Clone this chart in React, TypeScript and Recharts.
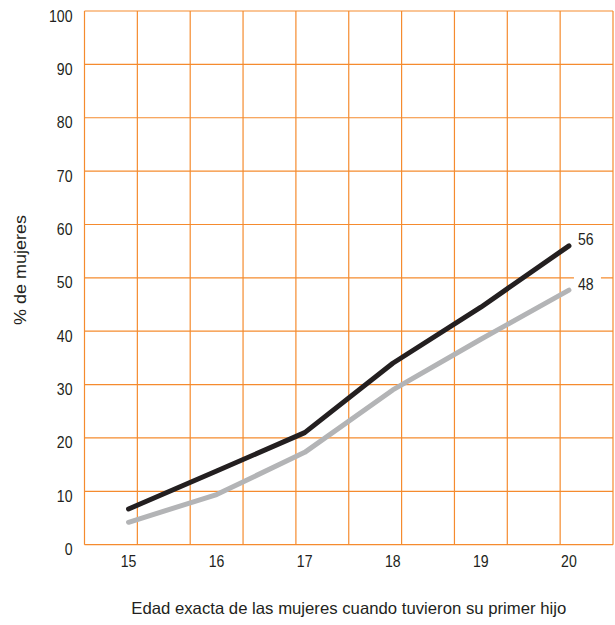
import React from 'react';
import { LineChart, Line, XAxis, YAxis, CartesianGrid, ReferenceLine } from 'recharts';

const ages = [15, 16, 17, 18, 19, 20];
const seriesBlack = [6.7, 13.8, 21, 34, 44.5, 56];
const seriesGray = [4.2, 9.4, 17.3, 29, 38.5, 47.7];
const yTicks = [0, 10, 20, 30, 40, 50, 60, 70, 80, 90, 100];
const xDomain: [number, number] = [14.5, 20.5];
const gridX = [14.5, 15.1, 15.7, 16.3, 16.9, 17.5, 18.1, 18.7, 19.3, 19.9, 20.5];
const yTitle = '% de mujeres';
const xTitle = 'Edad exacta de las mujeres cuando tuvieron su primer hijo';

const data = ages.map((a, i) => ({ age: a, black: seriesBlack[i], gray: seriesGray[i] }));

const FONT = '"Liberation Sans", Arial, sans-serif';
const TXT = '#231F20';
const ORANGE = '#F58B2E';
const SX = 0.84;

const Num = ({ x, y, anchor, children }: any) => (
  <text
    transform={`translate(${x}, ${y}) scale(${SX}, 1)`}
    textAnchor={anchor}
    fontFamily={FONT}
    fontSize={16.8}
    fill={TXT}
  >
    {children}
  </text>
);

const XTick = (p: any) => <Num x={p.x} y={p.y + 20.5} anchor="middle">{p.payload.value}</Num>;
const YTick = (p: any) => <Num x={p.x} y={p.y + 10.5} anchor="end">{p.payload.value}</Num>;

const endLabel = (withBg: boolean) => (p: any) => {
  if (p.index !== data.length - 1) return null;
  const v = Math.round(p.value);
  return (
    <g>
      {withBg && <rect x={p.x + 5} y={p.y - 18} width={27} height={20} fill="#fff" />}
      <Num x={p.x + 9} y={p.y - 0.5} anchor="start">{v}</Num>
    </g>
  );
};

export default function App() {
  return (
    <div style={{ position: 'absolute', left: 0, top: 0, background: '#fff' }}>
      <LineChart width={615} height={625} data={data} margin={{ top: 11, right: 2, left: 0, bottom: 0 }}>
        <CartesianGrid vertical={false} stroke={ORANGE} strokeWidth={1.2} />
        {gridX.map((c) => (
          <ReferenceLine key={c} x={c} stroke={ORANGE} strokeWidth={1.2} />
        ))}
        <XAxis
          dataKey="age"
          type="number"
          domain={xDomain}
          ticks={ages}
          interval={0}
          axisLine={false}
          tickLine={false}
          tickSize={0}
          height={80.3}
          tick={<XTick />}
          label={{
            content: (lp: any) => (
              <text
                x={lp.viewBox.x + lp.viewBox.width / 2}
                y={lp.viewBox.y + 69.5}
                textAnchor="middle"
                fontFamily={FONT}
                fontSize={16.5}
                textLength={435}
                lengthAdjust="spacingAndGlyphs"
                fill={TXT}
              >
                {xTitle}
              </text>
            ),
          }}
        />
        <YAxis
          type="number"
          domain={[0, 100]}
          ticks={yTicks}
          interval={0}
          axisLine={false}
          tickLine={false}
          tickSize={0}
          tickMargin={12}
          width={84.5}
          tick={<YTick />}
          label={{
            content: () => (
              <text
                x={0}
                y={0}
                transform="translate(26, 270) rotate(-90)"
                textAnchor="middle"
                fontFamily={FONT}
                fontSize={17}
                textLength={110}
                lengthAdjust="spacingAndGlyphs"
                fill={TXT}
              >
                {yTitle}
              </text>
            ),
          }}
        />
        <Line
          type="linear"
          dataKey="gray"
          stroke="#B3B4B6"
          strokeWidth={5}
          strokeLinecap="round"
          strokeLinejoin="round"
          dot={false}
          activeDot={false}
          isAnimationActive={false}
          label={endLabel(true)}
        />
        <Line
          type="linear"
          dataKey="black"
          stroke="#231F20"
          strokeWidth={5}
          strokeLinecap="round"
          strokeLinejoin="round"
          dot={false}
          activeDot={false}
          isAnimationActive={false}
          label={endLabel(false)}
        />
      </LineChart>
    </div>
  );
}
